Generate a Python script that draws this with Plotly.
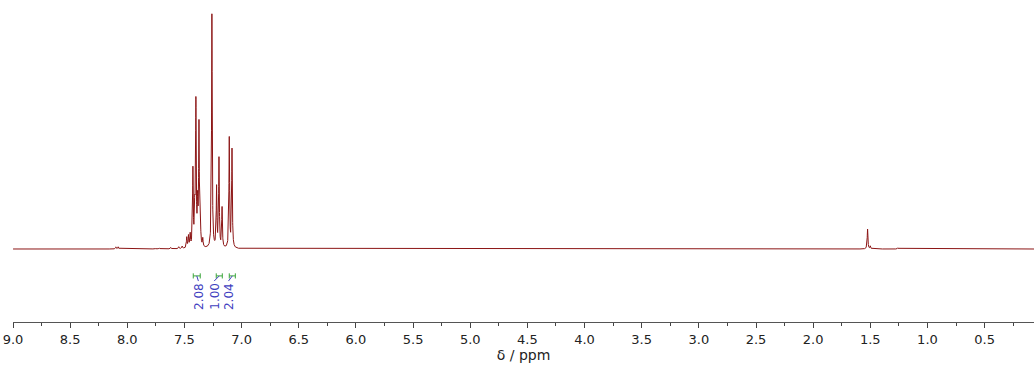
import numpy as np
import plotly.graph_objects as go

# Peak list (ppm, relative height; 7.26 peak = 1)
peak_ppm = [8.10, 8.08, 7.75, 7.72, 7.62, 7.55, 7.52, 7.48, 7.465, 7.45,
            7.426, 7.41, 7.40, 7.385, 7.373, 7.36, 7.34,
            7.26, 7.219, 7.198, 7.171, 7.108, 7.084,
            3.38, 1.524, 1.50, 1.26]
peak_height = [0.009, 0.009, 0.004, 0.004, 0.006, 0.008, 0.01, 0.045, 0.05, 0.055,
               0.33, 0.15, 0.61, 0.17, 0.52, 0.08, 0.035,
               1.0, 0.255, 0.38, 0.17, 0.47, 0.42,
               0.003, 0.085, 0.012, 0.005]
peak_hwhm = 0.0035

# Integrals: (start ppm, end ppm, label ppm, value)
integral_start = [7.423, 7.222, 7.108]
integral_end = [7.362, 7.169, 7.055]
integral_label_ppm = [7.378, 7.240, 7.115]
integral_values = ["2.08", "1.00", "2.04"]

tick_vals = [9.0, 8.5, 8.0, 7.5, 7.0, 6.5, 6.0, 5.5, 5.0, 4.5, 4.0, 3.5, 3.0, 2.5, 2.0, 1.5, 1.0, 0.5]
tick_text = ["9.0", "8.5", "8.0", "7.5", "7.0", "6.5", "6.0", "5.5", "5.0", "4.5", "4.0", "3.5", "3.0", "2.5", "2.0", "1.5", "1.0", "0.5"]

x_min, x_max = 0.068, 9.0

ppm = np.arange(x_min, x_max, 0.0005)
spec = np.zeros_like(ppm)
for p, h in zip(peak_ppm, peak_height):
    spec += h * peak_hwhm**2 / ((ppm - p) ** 2 + peak_hwhm**2)

fig = go.Figure()
fig.add_trace(go.Scatter(x=ppm, y=spec, mode="lines",
                         line=dict(color="#8c1515", width=1), hoverinfo="skip",
                         showlegend=False))

green = "#3aa53a"
blue = "#3f3fc0"
y_bar = -0.115
cap = 0.011
y_label_top = -0.137
for s, e, lp, v in zip(integral_start, integral_end, integral_label_ppm, integral_values):
    fig.add_shape(type="line", xref="x", yref="y", x0=s, x1=e, y0=y_bar, y1=y_bar,
                  line=dict(color=green, width=1))
    for xe in (s, e):
        fig.add_shape(type="line", xref="x", yref="y", x0=xe, x1=xe,
                      y0=y_bar - cap, y1=y_bar + cap, line=dict(color=green, width=1))
    mid = (s + e) / 2
    fig.add_shape(type="line", xref="x", yref="y", x0=mid, x1=lp,
                  y0=y_bar, y1=y_label_top, line=dict(color=blue, width=1))
    fig.add_annotation(x=lp, y=y_label_top, xref="x", yref="y", text=v,
                       textangle=-90, showarrow=False, yanchor="top",
                       font=dict(family="DejaVu Sans", size=12, color=blue))

fig.update_layout(
    width=1034, height=369,
    margin=dict(l=13, r=0, t=10, b=47, autoexpand=False),
    paper_bgcolor="white", plot_bgcolor="white",
    font=dict(family="DejaVu Sans", size=13, color="#222222"),
    xaxis=dict(range=[x_max, x_min], tickvals=tick_vals, ticktext=tick_text,
               automargin=False,
               ticks="outside", ticklen=5, tickcolor="#444444",
               showline=True, linecolor="#555555", linewidth=1,
               showgrid=False, zeroline=False,
               minor=dict(dtick=0.25, ticks="outside", ticklen=3, tickcolor="#444444", showgrid=False),
               title=dict(text="δ / ppm", standoff=2, font=dict(size=14)),
               tickfont=dict(size=13)),
    yaxis=dict(range=[-0.312, 1.0214], visible=False, showgrid=False, zeroline=False,
               automargin=False),
)

fig.write_html("out.html", config={"displayModeBar": False},
               post_script="document.body.style.margin='0';document.body.style.overflow='hidden';")
